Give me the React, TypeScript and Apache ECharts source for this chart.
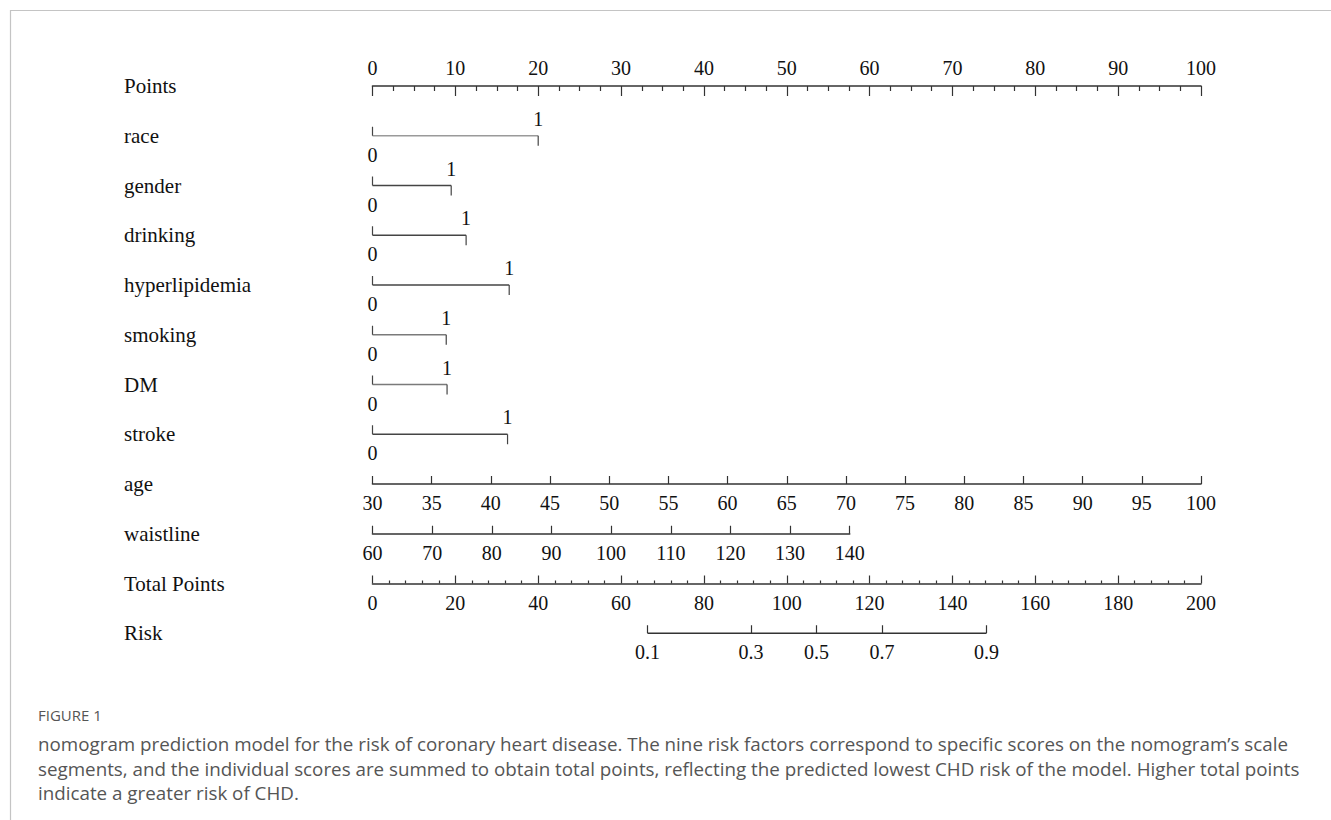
import React, { useEffect, useRef } from "react";
import * as echarts from "echarts";

// ---------- data ----------
const rowNames = [
  "Points", "race", "gender", "drinking", "hyperlipidemia", "smoking",
  "DM", "stroke", "age", "waistline", "Total Points", "Risk",
];
// binary predictors: points for level "1" (level "0" = 0 points)
const binaryFactors = ["race", "gender", "drinking", "hyperlipidemia", "smoking", "DM", "stroke"];
const binaryPointsAt0 = [0, 0, 0, 0, 0, 0, 0];
const binaryPointsAt1 = [20, 9.5, 11.3, 16.5, 8.9, 9.0, 16.3];

// continuous predictors
const pointsRange = [0, 100];
const pointsInterval = 10;
const ageRange = [30, 100];
const ageInterval = 5;
const waistRange = [60, 140];
const waistInterval = 10;
const waistPointsAtMax = 57.6; // waistline 140 sits at ~57.6 points
const totalRange = [0, 200];
const totalInterval = 20;

// risk scale: total points where each risk tick sits
const riskLabels = ["0.1", "0.3", "0.5", "0.7", "0.9"];
const riskTotalPoints = [66.4, 91.4, 107.2, 123.0, 148.2];

const captionTitle = "FIGURE 1";
const captionLines = [
  "nomogram prediction model for the risk of coronary heart disease. The nine risk factors correspond to specific scores on the nomogram\u2019s scale",
  "segments, and the individual scores are summed to obtain total points, reflecting the predicted lowest CHD risk of the model. Higher total points",
  "indicate a greater risk of CHD.",
];

// ---------- layout / style ----------
const W = 1331;
const H = 820;
const PLOT_LEFT = 372.5;
const PLOT_RIGHT_X = 1201;
const PLOT_W = PLOT_RIGHT_X - PLOT_LEFT;
const ROW0_Y = 86;
const ROW_STEP = 49.75;
const rowY = (i: number) => ROW0_Y + i * ROW_STEP;

const SERIF = "'Liberation Serif', 'Times New Roman', serif";
const SANS = "'Open Sans', sans-serif";
const TICK_FONT = 20;
const ROW_FONT = 21;
const AXIS_COLOR = "#333";
const TEXT_COLOR = "#111";
const binaryLineColor: Record<string, string> = {
  race: "#9a9a9a",
  gender: "#444",
  drinking: "#444",
  hyperlipidemia: "#444",
  smoking: "#7a7a7a",
  DM: "#7a7a7a",
  stroke: "#444",
};

const tickLabel = { fontFamily: SERIF, fontSize: TICK_FONT, color: TEXT_COLOR };

function bottomAxis(gridIndex: number, extra: any) {
  return {
    type: "value",
    gridIndex,
    position: "bottom",
    axisLine: { show: true, onZero: false, lineStyle: { color: AXIS_COLOR, width: 1.6 } },
    axisTick: { show: true, inside: true, length: 8, lineStyle: { color: AXIS_COLOR, width: 1.2 } },
    axisLabel: { ...tickLabel, margin: 9, showMinLabel: true, showMaxLabel: true, hideOverlap: false },
    splitLine: { show: false },
    ...extra,
  };
}

export default function App() {
  const ref = useRef<HTMLDivElement>(null);

  useEffect(() => {
    if (!ref.current) return;
    const chart = echarts.init(ref.current, undefined, { renderer: "svg" });

    const ageRow = rowNames.indexOf("age");
    const waistRow = rowNames.indexOf("waistline");
    const totalRow = rowNames.indexOf("Total Points");
    const riskRow = rowNames.indexOf("Risk");
    const lastRow = rowNames.length - 1;

    const smallGrid = (row: number, width: number) => ({
      left: PLOT_LEFT,
      top: rowY(row) - 10,
      width,
      height: 10,
    });

    const binaryData = binaryFactors.map((name, i) => ({
      name,
      value: [binaryPointsAt0[i], binaryPointsAt1[i], rowNames.indexOf(name)],
    }));

    const option: any = {
      animation: false,
      backgroundColor: "#fff",
      grid: [
        { left: PLOT_LEFT, top: ROW0_Y, width: PLOT_W, height: ROW_STEP * lastRow },
        smallGrid(ageRow, PLOT_W),
        smallGrid(waistRow, (PLOT_W * waistPointsAtMax) / pointsRange[1]),
        smallGrid(totalRow, PLOT_W),
        smallGrid(riskRow, PLOT_W),
      ],
      xAxis: [
        {
          type: "value",
          gridIndex: 0,
          position: "top",
          min: pointsRange[0],
          max: pointsRange[1],
          interval: pointsInterval,
          axisLine: { show: true, onZero: false, lineStyle: { color: AXIS_COLOR, width: 1.6 } },
          axisTick: { show: true, inside: true, length: 10, lineStyle: { color: AXIS_COLOR, width: 1.2 } },
          minorTick: { show: true, splitNumber: 4, length: 5, lineStyle: { color: AXIS_COLOR, width: 1.2 } },
          axisLabel: { ...tickLabel, margin: 8, showMinLabel: true, showMaxLabel: true, hideOverlap: false },
          splitLine: { show: false },
          minorSplitLine: { show: false },
        },
        bottomAxis(1, { min: ageRange[0], max: ageRange[1], interval: ageInterval }),
        bottomAxis(2, { min: waistRange[0], max: waistRange[1], interval: waistInterval }),
        bottomAxis(3, {
          min: totalRange[0],
          max: totalRange[1],
          interval: totalInterval,
          minorTick: { show: true, splitNumber: 5, length: 3, lineStyle: { color: AXIS_COLOR, width: 1.2 } },
          minorSplitLine: { show: false },
        }),
        bottomAxis(4, {
          min: totalRange[0],
          max: totalRange[1],
          axisLine: { show: false },
          axisTick: {
            show: true,
            inside: true,
            length: 8,
            customValues: riskTotalPoints,
            lineStyle: { color: AXIS_COLOR, width: 1.2 },
          },
          axisLabel: {
            ...tickLabel,
            margin: 9,
            customValues: riskTotalPoints,
            formatter: (v: number) => {
              let best = 0;
              riskTotalPoints.forEach((p, i) => {
                if (Math.abs(p - v) < Math.abs(riskTotalPoints[best] - v)) best = i;
              });
              return riskLabels[best];
            },
          },
        }),
      ],
      yAxis: [
        {
          type: "category",
          gridIndex: 0,
          data: rowNames,
          inverse: true,
          boundaryGap: false,
          axisLine: { show: false },
          axisTick: { show: false },
          splitLine: { show: false },
          axisLabel: {
            fontFamily: SERIF,
            fontSize: ROW_FONT,
            color: TEXT_COLOR,
            align: "left",
            margin: PLOT_LEFT - 124,
            interval: 0,
          },
        },
        { type: "value", gridIndex: 1, min: 0, max: 1, show: false },
        { type: "value", gridIndex: 2, min: 0, max: 1, show: false },
        { type: "value", gridIndex: 3, min: 0, max: 1, show: false },
        { type: "value", gridIndex: 4, min: 0, max: 1, show: false },
      ],
      series: [
        {
          type: "custom",
          name: "binary",
          xAxisIndex: 0,
          yAxisIndex: 0,
          clip: false,
          encode: { x: [0, 1], y: 2 },
          data: binaryData,
          renderItem: (params: any, api: any) => {
            const name = binaryFactors[params.dataIndex];
            const color = binaryLineColor[name] || "#444";
            const r = api.value(2);
            const a = api.coord([api.value(0), r]);
            const b = api.coord([api.value(1), r]);
            const ls = { stroke: color, lineWidth: 1.6 };
            const ts = { stroke: "#444", lineWidth: 1.2 };
            return {
              type: "group",
              children: [
                { type: "line", shape: { x1: a[0], y1: a[1], x2: b[0], y2: b[1] }, style: ls },
                { type: "line", shape: { x1: a[0], y1: a[1] - 9, x2: a[0], y2: a[1] }, style: ts },
                { type: "line", shape: { x1: b[0], y1: b[1], x2: b[0], y2: b[1] + 10 }, style: ts },
                {
                  type: "text",
                  style: {
                    text: "0", x: a[0], y: a[1] + 19, align: "center", verticalAlign: "middle",
                    fontFamily: SERIF, fontSize: TICK_FONT, fill: TEXT_COLOR,
                  },
                },
                {
                  type: "text",
                  style: {
                    text: "1", x: b[0], y: b[1] - 17, align: "center", verticalAlign: "middle",
                    fontFamily: SERIF, fontSize: TICK_FONT, fill: TEXT_COLOR,
                  },
                },
              ],
            };
          },
        },
        {
          type: "line",
          name: "risk axis",
          xAxisIndex: 4,
          yAxisIndex: 4,
          clip: false,
          symbol: "none",
          silent: true,
          lineStyle: { color: AXIS_COLOR, width: 1.6 },
          data: [
            [riskTotalPoints[0], 0],
            [riskTotalPoints[riskTotalPoints.length - 1], 0],
          ],
        },
      ],
      graphic: [
        { type: "line", shape: { x1: 10, y1: 10.5, x2: W, y2: 10.5 }, style: { stroke: "#c4c4c4", lineWidth: 1.2 } },
        { type: "line", shape: { x1: 10.5, y1: 10, x2: 10.5, y2: H }, style: { stroke: "#c4c4c4", lineWidth: 1.2 } },
        {
          type: "text",
          x: 38,
          y: 715,
          style: {
            text: captionTitle, fontFamily: SANS, fontSize: 15,
            fill: "#555", verticalAlign: "middle",
          },
        },
        ...captionLines.map((t, i) => ({
          type: "text",
          x: 38,
          y: 744 + i * 24.5,
          style: {
            text: t, fontFamily: SANS, fontSize: 18.8,
            fill: "#555", verticalAlign: "middle",
          },
        })),
      ],
    };

    chart.setOption(option);
    return () => chart.dispose();
  }, []);

  return (
    <div
      ref={ref}
      style={{ position: "absolute", left: 0, top: 0, width: W, height: H, background: "#fff" }}
    />
  );
}
